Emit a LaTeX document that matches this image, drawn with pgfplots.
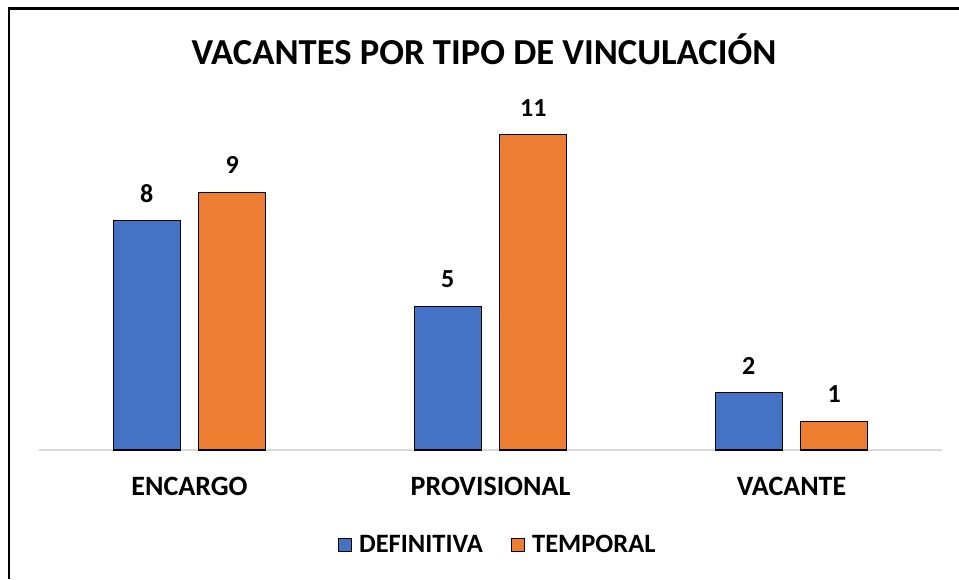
\documentclass[border=0pt]{standalone}
\usepackage{fontspec}
\setmainfont{Carlito}
\usepackage{pgfplots}
\pgfplotsset{compat=1.18}
\definecolor{cblue}{HTML}{4472C4}
\definecolor{corange}{HTML}{ED7D31}
\begin{document}
\begin{tikzpicture}
\path[use as bounding box] (0pt,0pt) rectangle (959pt,-579pt);
\fill[white] (0pt,0pt) rectangle (959pt,-579pt);
\draw[line width=2.2pt,black] (9pt,-579pt) -- (9pt,-8.5pt) -- (959pt,-8.5pt);
\node[anchor=base,inner sep=0pt,font=\fontsize{36.6}{40}\selectfont\bfseries] at (484pt,-64pt) {VACANTES POR TIPO DE VINCULACIÓN};
\begin{axis}[
  at={(39pt,-450pt)}, anchor=south west,
  scale only axis, width=903pt, height=343.8pt,
  ymin=0, ymax=12, xmin=-0.5, xmax=2.5,
  ybar=18.5pt, bar width=67pt,
  axis y line=none,
  axis x line*=bottom,
  x axis line style={draw=black!15, line width=1.5pt, -},
  xtick=data, xticklabels={ENCARGO,PROVISIONAL,VACANTE},
  major tick length=0pt,
  /pgf/number format/assume math mode=true,
  xticklabel style={font=\fontsize{28}{30}\selectfont\bfseries, anchor=base, yshift=-45pt, inner sep=0pt},
  nodes near coords,
  every node near coord/.append style={font=\fontsize{26}{28}\selectfont\bfseries, anchor=south, inner sep=0pt, yshift=18pt, black},
  legend columns=2,
  legend style={at={(0.508,-0.276)}, anchor=center, draw=none, fill=none,
    font=\fontsize{26.5}{28}\selectfont\bfseries,
    /tikz/every odd column/.append style={column sep=5pt},
    /tikz/every even column/.append style={column sep=26pt}},
  legend image code/.code={\draw[#1, draw=black, line width=1.2pt] (0pt,-6.5pt) rectangle (13pt,6.5pt);},
]
\addplot[fill=cblue, draw=black, line width=1.2pt] coordinates {(0,8) (1,5) (2,2)};
\addplot[fill=corange, draw=black, line width=1.2pt] coordinates {(0,9) (1,11) (2,1)};
\legend{DEFINITIVA,TEMPORAL}
\end{axis}
\end{tikzpicture}
\end{document}
